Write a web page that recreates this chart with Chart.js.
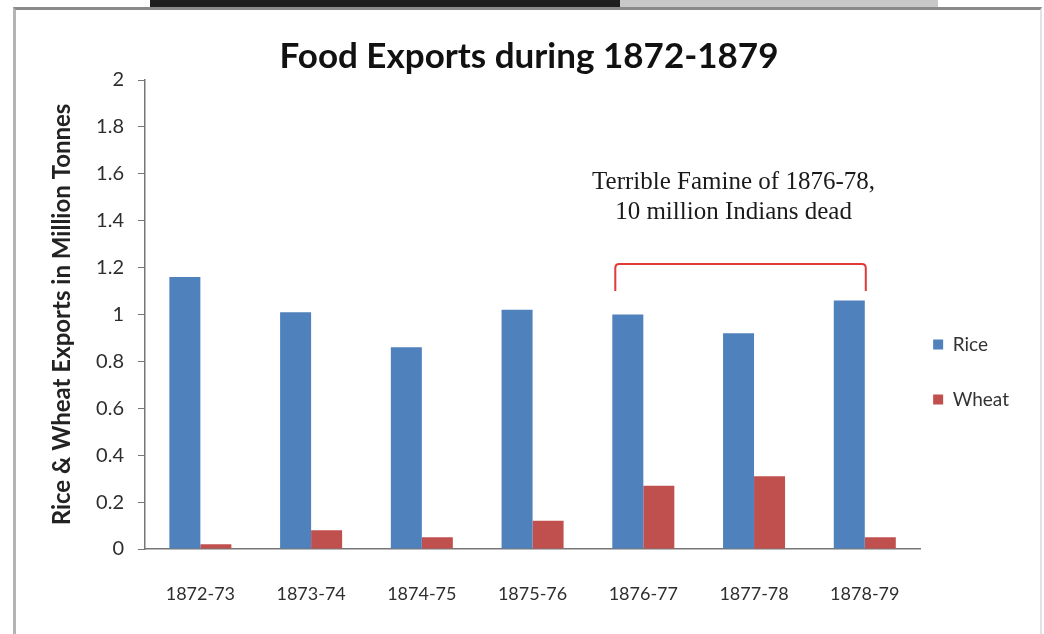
<!DOCTYPE html>
<html>
<head>
<meta charset="utf-8">
<script src="https://cdn.jsdelivr.net/npm/chart.js@4.4.1/dist/chart.umd.min.js"></script>
<style>
  html, body { margin: 0; padding: 0; background: #fff; }
  #wrap { position: relative; width: 1044px; height: 634px; overflow: hidden; }
  #frame { position: absolute; left: 13px; top: 7px; width: 1024px; height: 640px;
           border-left: 3px solid #b4b4b4; border-top: 3px solid #8a8a8a; border-right: 2px solid #e2e2e2; }
  #strip1 { position: absolute; left: 150px; top: 0; width: 470px; height: 8px; background: #1e1e1e; }
  #strip2 { position: absolute; left: 620px; top: 0; width: 318px; height: 8px; background: #c8c8c8; border-bottom: 1px solid #555; }
  canvas { position: absolute; left: 0; top: 0; }
</style>
</head>
<body>
<div id="wrap">
  <div id="strip1"></div>
  <div id="strip2"></div>
  <div id="frame"></div>
  <canvas id="chart" width="1044" height="634"></canvas>
</div>
<script>
// data (million tonnes)
const years = ['1872-73','1873-74','1874-75','1875-76','1876-77','1877-78','1878-79'];
const rice  = [1.16, 1.01, 0.86, 1.02, 1.00, 0.92, 1.06];
const wheat = [0.02, 0.08, 0.05, 0.12, 0.27, 0.31, 0.05];
const yTicks = [0, 0.2, 0.4, 0.6, 0.8, 1, 1.2, 1.4, 1.6, 1.8, 2];
const famineNote = ['Terrible Famine of 1876-78,', '10 million Indians dead'];
const famineFrom = 4, famineTo = 6;   // category indexes the bracket spans

// bracket + note over the famine years
const famineBracket = {
  id: 'famineBracket',
  afterDatasetsDraw(chart) {
    const {ctx, scales: {y}} = chart;
    const a = chart.getDatasetMeta(0).data[famineFrom];
    const b = chart.getDatasetMeta(0).data[famineTo];
    const x1 = a.x - a.width / 2 + 3, x2 = b.x + b.width / 2 + 1;
    const yTop = y.getPixelForValue(1.215), yEnd = y.getPixelForValue(1.1);
    const r = 4;
    ctx.save();
    ctx.strokeStyle = '#e0393a';
    ctx.lineWidth = 2;
    ctx.beginPath();
    ctx.moveTo(x1, yEnd);
    ctx.lineTo(x1, yTop + r);
    ctx.quadraticCurveTo(x1, yTop, x1 + r, yTop);
    ctx.lineTo(x2 - r, yTop);
    ctx.quadraticCurveTo(x2, yTop, x2, yTop + r);
    ctx.lineTo(x2, yEnd);
    ctx.stroke();
    ctx.fillStyle = '#1a1a1a';
    ctx.font = '25px "Liberation Serif", serif';
    ctx.textAlign = 'center';
    ctx.textBaseline = 'middle';
    const cx = (x1 + x2) / 2 - 7;
    ctx.fillText(famineNote[0], cx, y.getPixelForValue(1.565));
    ctx.fillText(famineNote[1], cx, y.getPixelForValue(1.437));
    ctx.restore();
  }
};

// nudge the right-hand legend and the title to where the original has them
const boxNudge = {
  id: 'boxNudge',
  afterLayout(chart) {
    const lg = chart.legend;
    if (lg) {
      lg.left -= 23; lg.right -= 23;
      lg.top += 55; lg.bottom += 55;
    }
    const tt = chart.titleBlock;
    if (tt) { tt.left += 8; tt.right += 8; }
  }
};

new Chart(document.getElementById('chart'), {
  type: 'bar',
  data: {
    labels: years,
    datasets: [
      { label: 'Rice', data: rice, backgroundColor: '#4f81bd' },
      { label: 'Wheat', data: wheat, backgroundColor: '#c0504d' }
    ]
  },
  options: {
    responsive: false,
    animation: false,
    devicePixelRatio: 1,
    layout: { padding: { left: 0, right: 2, top: 0, bottom: 0 } },
    datasets: { bar: { categoryPercentage: 0.56, barPercentage: 1.0 } },
    plugins: {
      title: {
        display: true,
        text: 'Food Exports during 1872-1879',
        color: '#111',
        font: { family: 'Lato', size: 35, weight: 'bold' },
        padding: { top: 36, bottom: 2 }
      },
      legend: {
        position: 'right',
        labels: {
          boxWidth: 10, boxHeight: 10, padding: 36,
          color: '#333',
          font: { family: 'Lato', size: 19 }
        }
      },
      tooltip: { enabled: false }
    },
    scales: {
      x: {
        grid: { display: false, drawTicks: false },
        border: { display: true, color: '#777', width: 1.5 },
        ticks: { color: '#2e2e2e', font: { family: 'Lato', size: 18 }, padding: 34, maxRotation: 0 },
        afterFit(scale) { scale.height = 85; }
      },
      y: {
        min: 0, max: 2,
        afterBuildTicks(scale) { scale.ticks = yTicks.map(v => ({ value: v })); },
        grid: { drawOnChartArea: false, drawTicks: true, tickLength: 7, color: '#777' },
        border: { display: true, color: '#777', width: 1.5 },
        ticks: { color: '#2e2e2e', font: { family: 'Lato', size: 20 }, padding: 14, callback: v => String(v) },
        title: {
          display: true,
          text: 'Rice & Wheat Exports in Million Tonnes',
          color: '#222',
          font: { family: 'Lato', size: 24, weight: 'bold' },
          padding: { top: 48, bottom: 0 }
        },
        afterFit(scale) { scale.width = 145; }
      }
    }
  },
  plugins: [famineBracket, boxNudge]
});
</script>
</body>
</html>
